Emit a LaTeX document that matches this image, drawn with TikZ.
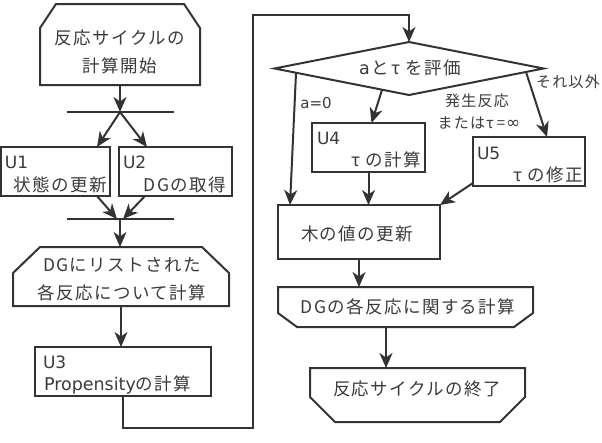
\documentclass[tikz,border=0pt]{standalone}
\usepackage{fontspec}
\setmainfont{Noto Sans CJK JP}[LetterSpace=8]
\newfontfamily\lat{DejaVu Sans}
\newcommand{\tauj}{\hspace{2pt}τ\hspace{5pt}}
\usetikzlibrary{arrows.meta,shapes.geometric,calc}
\definecolor{ln}{HTML}{333333}
\definecolor{tx}{HTML}{3A3A3A}
\begin{document}
\begin{tikzpicture}[x=1pt,y=-1pt,
  every node/.style={inner sep=0pt,outer sep=0pt,text=tx},
  boxr/.style={rectangle,draw=ln,line width=2pt},
  shapeonly/.style={rectangle,draw=none},
  outl/.style={draw=ln,line width=2pt,line join=miter},
  arr/.style={draw=ln,line width=2pt,-{Stealth[length=15pt,width=13pt,inset=4.5pt]}},
  conn/.style={draw=ln,line width=2pt},
  big/.style={font=\fontsize{17.5}{28}\selectfont},
  bigl/.style={font=\lat\fontsize{17}{24}\selectfont},
  small/.style={font=\fontsize{15}{22}\selectfont},
  smalll/.style={font=\lat\fontsize{15}{22}\selectfont},
]
\useasboundingbox (0,0) rectangle (602,442);

% ---------- left column ----------
\node[shapeonly,minimum width=160pt,minimum height=81pt] (start) at (120,44.5) {};
\draw[outl] (start.south west) -- ($(start.north west)+(0,24)$) -- ($(start.north west)+(16,0)$)
  -- ($(start.north east)+(-16,0)$) -- ($(start.north east)+(0,24)$) -- (start.south east) -- cycle;
\node[big,align=center] (starttxt) at (120,52) {反応サイクルの\\計算開始};

\node[minimum width=107pt,minimum height=0pt] (bar1) at (120,112) {};
\draw[conn] (bar1.west) -- (bar1.east);

\node[boxr,minimum width=109pt,minimum height=49pt] (u1) at (55.5,171.5) {};
\node[bigl,anchor=west] (u1a) at (5,162) {U1};
\node[big,anchor=east] (u1b) at (107,185) {状態の更新};

\node[boxr,minimum width=113pt,minimum height=49pt] (u2) at (175.5,171.5) {};
\node[bigl,anchor=west] (u2a) at (123,162) {U2};
\node[big,anchor=east] (u2b) at (226,185) {DGの取得};

\node[minimum width=107pt,minimum height=0pt] (bar2) at (120,219) {};
\draw[conn] (bar2.west) -- (bar2.east);

\node[shapeonly,minimum width=216pt,minimum height=59pt] (loop) at (121,276.5) {};
\draw[outl] (loop.south west) -- ($(loop.north west)+(0,26)$) -- ($(loop.north west)+(27,0)$)
  -- ($(loop.north east)+(-27,0)$) -- ($(loop.north east)+(0,26)$) -- (loop.south east) -- cycle;
\node[big,align=center] (looptxt) at (122,279) {DGにリストされた\\各反応について計算};

\node[boxr,minimum width=176pt,minimum height=49pt] (u3) at (123,371.5) {};
\node[bigl,anchor=west] (u3a) at (43,362) {U3};
\node[big,anchor=west] (u3b) at (44,385) {{\lat Propensity}の計算};

% ---------- right column ----------
\node[diamond,draw=ln,line width=2pt,minimum width=269pt,minimum height=53pt,inner sep=0pt] (dia) at (409,68.5) {};
\node[big] (diatxt) at (410,68) {{\lat a}\hspace{2pt}と\tauj を評価};

\node[boxr,minimum width=113pt,minimum height=49pt] (u4) at (368.5,147.5) {};
\node[bigl,anchor=west] (u4a) at (317,138) {U4};
\node[big,anchor=east] (u4b) at (421,160) {\tauj の計算};

\node[boxr,minimum width=112pt,minimum height=49pt] (u5) at (529,161.5) {};
\node[bigl,anchor=west] (u5a) at (477,153) {U5};
\node[big,anchor=east] (u5b) at (583,175) {\tauj の修正};

\node[boxr,minimum width=162pt,minimum height=54pt] (tree) at (359,232) {};
\node[big] (treetxt) at (357,234) {木の値の更新};

\node[shapeonly,minimum width=255pt,minimum height=40pt] (dg) at (405.5,307) {};
\draw[outl] (dg.north west) -- (dg.north east) -- ($(dg.south east)+(0,-14)$) -- ($(dg.south east)+(-19,0)$)
  -- ($(dg.south west)+(19,0)$) -- ($(dg.south west)+(0,-14)$) -- cycle;
\node[big] (dgtxt) at (408,307) {DGの各反応に関する計算};

\node[shapeonly,minimum width=215pt,minimum height=54pt] (endb) at (417.5,395) {};
\draw[outl] (endb.north west) -- (endb.north east) -- ($(endb.south east)+(0,-25)$) -- ($(endb.south east)+(-25,0)$)
  -- ($(endb.south west)+(25,0)$) -- ($(endb.south west)+(0,-25)$) -- cycle;
\node[big] (endtxt) at (417,389) {反応サイクルの終了};

% labels
\node[smalll] (la0) at (316,103) {a=0};
\node[small] (lhs1) at (477,101) {発生反応};
\node[small] (lhs2) at (479,123) {または\hspace{1pt}τ\hspace{3pt}=\hspace{1pt}{\lat\fontsize{17}{22}\selectfont ∞}};
\node[small] (loth) at (568,82) {それ以外};

% ---------- connectors ----------
\draw[arr] (start.south) -- (bar1.center);
\draw[arr] (bar1.center) -- ($(u1.north east)+(-13,0)$);
\draw[arr] (bar1.center) -- ($(u2.north west)+(28,0)$);
\draw[arr] ($(u1.south east)+(-13,0)$) -- ($(bar2.center)+(-3,0)$);
\draw[arr] ($(u2.south west)+(26,0)$) -- ($(bar2.center)+(3,0)$);
\draw[arr] (bar2.center) -- (bar2.center |- loop.north);
\draw[arr] (loop.south) -- (loop.south |- u3.north);

\coordinate (lp1) at (253,428);
\coordinate (lp2) at (253,15);
\draw[arr] (u3.south) -- (u3.south |- lp1) -- (lp1) -- (lp2) -- (lp2 -| dia.north) -- (dia.north);

\draw[arr] ($(dia.west)!0.16!(dia.south)$) -- ($(tree.north west)+(12,0)$);
\draw[arr] ($(dia.west)!0.8!(dia.south)$) -- ($(u4.north)+(3,0)$);
\draw[arr] ($(dia.east)!0.13!(dia.south)$) -- ($(u5.north)+(18,0)$);
\draw[arr] (u4.south) -- (u4.south |- tree.north);
\draw[arr] ($(u5.south west)+(0,-3)$) -- (tree.north east);
\draw[arr] (tree.south) -- (tree.south |- dg.north);
\coordinate (dgout) at ($(dg.south)+(-19.5,0)$);
\draw[arr] (dgout) -- (dgout |- endb.north);
\end{tikzpicture}
\end{document}
